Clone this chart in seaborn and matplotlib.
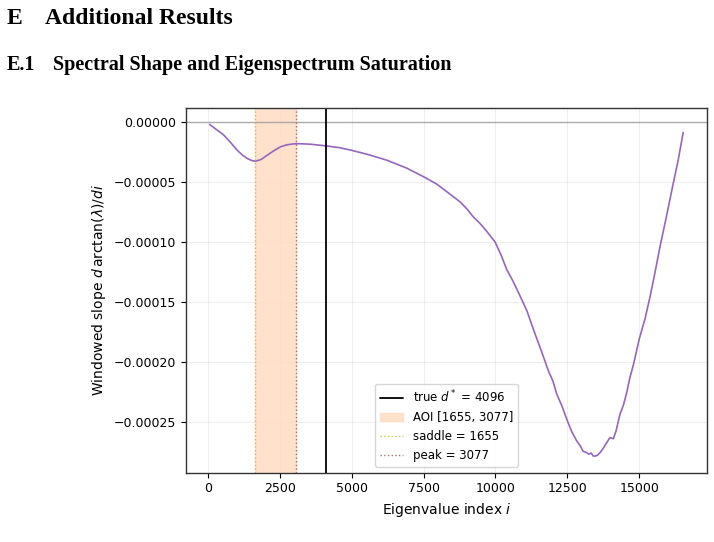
import numpy as np
import pandas as pd
import seaborn as sns
import matplotlib.pyplot as plt

# values
idx = [64, 300, 556, 800, 1021, 1200, 1368, 1520, 1656, 1850, 2062, 2300, 2524, 2750,
       2986, 3200, 3566, 4110, 4600, 5014, 5600, 6229, 6900, 7514, 7965, 8400, 8774,
       9000, 9236, 9469, 9700, 9990, 10200, 10396, 10600, 10858, 11090, 11378, 11600,
       11840, 12000, 12132, 12300, 12500, 12650, 12826, 12950, 13050, 13174, 13250,
       13330, 13400, 13462, 13540, 13635, 13750, 13850, 13983, 14100, 14200, 14330,
       14450, 14560, 14677, 14800, 15000, 15200, 15371, 15550, 15719, 15950, 16181,
       16350, 16528]
slope = [-1.7e-6, -6.0e-6, -1.06e-5, -1.70e-5, -2.32e-5, -2.72e-5, -3.01e-5, -3.18e-5,
         -3.24e-5, -3.10e-5, -2.74e-5, -2.36e-5, -2.04e-5, -1.87e-5,
         -1.79e-5, -1.78e-5, -1.82e-5, -1.96e-5, -2.12e-5, -2.34e-5, -2.70e-5, -3.16e-5,
         -3.80e-5, -4.55e-5, -5.16e-5, -5.95e-5, -6.64e-5,
         -7.20e-5, -7.90e-5, -8.45e-5, -9.10e-5, -9.99e-5, -1.11e-4, -1.23e-4, -1.32e-4,
         -1.45e-4, -1.57e-4, -1.766e-4, -1.91e-4,
         -2.073e-4, -2.16e-4, -2.268e-4, -2.36e-4, -2.49e-4, -2.58e-4, -2.659e-4,
         -2.70e-4, -2.745e-4, -2.757e-4, -2.77e-4,
         -2.76e-4, -2.785e-4, -2.785e-4, -2.78e-4, -2.757e-4, -2.72e-4, -2.68e-4,
         -2.631e-4, -2.64e-4, -2.57e-4, -2.436e-4,
         -2.36e-4, -2.26e-4, -2.129e-4, -2.02e-4, -1.808e-4, -1.64e-4, -1.46e-4,
         -1.25e-4, -1.041e-4, -7.8e-5, -5.1e-5,
         -3.2e-5, -8.4e-6]

true_d = 4096
saddle = 1655
peak = 3077

df = pd.DataFrame({"i": idx, "slope": slope})

sns.set_style("white", {"text.color": "black", "axes.labelcolor": "black",
                        "xtick.color": "black", "ytick.color": "black"})
plt.rcParams['font.family'] = ['DejaVu Sans']

fig = plt.figure(figsize=(7.14, 5.42), dpi=100)
ax = fig.add_axes([0.2605, 0.128, 0.7295, 0.673])

sns.lineplot(data=df, x="i", y="slope", ax=ax, color="#9467bd", linewidth=1.2)
ax.axhline(0, color="#999999", linewidth=1.0, alpha=0.8)
ax.axvline(true_d, color="black", linewidth=1.3, label=r"true $d^*$ = %d" % true_d)
ax.axvspan(saddle, peak, color="#ffdcc4", alpha=0.85, label="AOI [%d, %d]" % (saddle, peak))
ax.axvline(saddle, color="#bcbd22", linestyle=":", linewidth=1.0, alpha=0.8,
           label="saddle = %d" % saddle)
ax.axvline(peak, color="#8c564b", linestyle=":", linewidth=1.0, alpha=0.8,
           label="peak = %d" % peak)

ax.grid(True, alpha=0.3)
for s in ax.spines.values():
    s.set_color("#333333")
    s.set_linewidth(1.0)
ax.tick_params(axis="both", labelsize=9, length=3.5, width=0.8, direction="out",
               bottom=True, left=True)
ax.set_xticks([0, 2500, 5000, 7500, 10000, 12500, 15000])
ax.set_xlabel(r"Eigenvalue index $i$", fontsize=10)
ax.set_ylabel(r"Windowed slope $d\,\arctan(\lambda)/di$", fontsize=10)
ax.legend(loc="lower center", fontsize=8.5, frameon=True)

# page header around the figure
serif = ['Liberation Serif', 'DejaVu Serif']
fig.text(7 / 714, 1 - 23.5 / 542, "E", family=serif, weight="bold", fontsize=17)
fig.text(45 / 714, 1 - 23.5 / 542, "Additional Results", family=serif, weight="bold", fontsize=17)
fig.text(7 / 714, 1 - 70 / 542, "E.1", family=serif, weight="bold", fontsize=14.5)
fig.text(53 / 714, 1 - 70 / 542, "Spectral Shape and Eigenspectrum Saturation",
         family=serif, weight="bold", fontsize=14.5)

fig.savefig("out.png", dpi=100)
